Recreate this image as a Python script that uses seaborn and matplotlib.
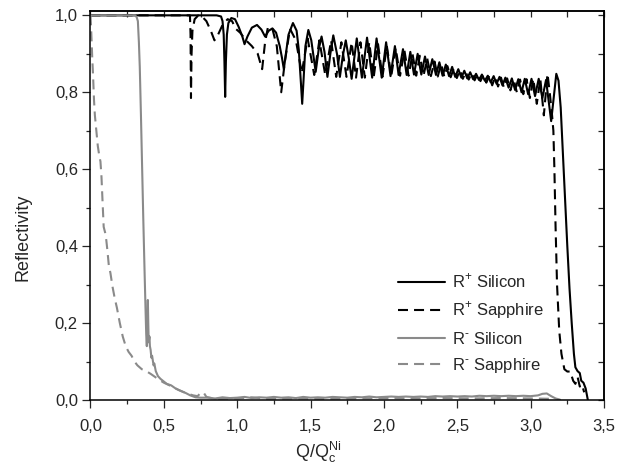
# Reflectivity R+ / R- of Ni multilayer on silicon and sapphire
import pandas as pd
import numpy as np
from matplotlib import pyplot as plt
from matplotlib.ticker import MultipleLocator, FuncFormatter
import seaborn as sns

# R+ Silicon (solid black)
rp_si_q = [0.00, 0.86, 0.89, 0.90, 0.908, 0.913, 0.918, 0.923, 0.93, 0.94, 0.96, 0.985,
           1.01, 1.035, 1.05, 1.07, 1.10, 1.135, 1.165, 1.19, 1.215, 1.24, 1.265, 1.29,
           1.305, 1.318, 1.33, 1.35, 1.38, 1.405, 1.42, 1.435, 1.443, 1.452, 1.465, 1.485,
           1.505, 1.535, 1.555, 1.575, 1.595, 1.615, 1.635, 1.655, 1.68, 1.70, 1.72, 1.74,
           1.76, 1.78, 1.80, 1.815, 1.85, 1.885, 1.92, 1.95, 1.985, 2.015, 2.045, 2.075,
           2.10, 2.13, 2.155, 2.18, 2.205, 2.23, 2.255, 2.28, 2.305, 2.33, 2.355, 2.378,
           2.40, 2.422, 2.444, 2.465, 2.486, 2.507, 2.528, 2.548, 2.568, 2.588, 2.608, 2.628,
           2.648, 2.668, 2.688, 2.708, 2.728, 2.748, 2.768, 2.788, 2.808, 2.828, 2.85, 2.872,
           2.894, 2.916, 2.938, 2.96, 2.983, 3.006, 3.03, 3.055, 3.08, 3.105, 3.14, 3.175,
           3.19, 3.205, 3.22, 3.235, 3.25, 3.265, 3.28, 3.295, 3.305, 3.32, 3.335, 3.345,
           3.36, 3.375, 3.39]
rp_si_r = [1.000, 1.000, 0.997, 0.985, 0.95, 0.88, 0.788, 0.88, 0.95, 0.98, 0.993, 0.99,
           0.97, 0.945, 0.925, 0.945, 0.968, 0.975, 0.963, 0.945, 0.96, 0.966, 0.955, 0.92,
           0.89, 0.86, 0.895, 0.95, 0.98, 0.96, 0.91, 0.82, 0.77, 0.83, 0.92, 0.962,
           0.935, 0.853, 0.91, 0.945, 0.905, 0.84, 0.90, 0.948, 0.90, 0.84, 0.895, 0.935,
           0.89, 0.835, 0.895, 0.94, 0.838, 0.942, 0.838, 0.94, 0.838, 0.93, 0.842, 0.92,
           0.845, 0.912, 0.845, 0.905, 0.846, 0.90, 0.846, 0.893, 0.845, 0.886, 0.845, 0.878,
           0.843, 0.872, 0.842, 0.866, 0.84, 0.86, 0.838, 0.856, 0.836, 0.852, 0.834, 0.848,
           0.832, 0.846, 0.83, 0.843, 0.826, 0.842, 0.822, 0.84, 0.818, 0.838, 0.812, 0.836,
           0.806, 0.834, 0.80, 0.835, 0.795, 0.835, 0.79, 0.835, 0.785, 0.832, 0.725, 0.848,
           0.83, 0.76, 0.64, 0.52, 0.40, 0.29, 0.20, 0.12, 0.085, 0.075, 0.07, 0.05,
           0.045, 0.03, 0.0]

# R+ Sapphire (dashed black)
rp_sa_q = [0.00, 0.678, 0.682, 0.685, 0.689, 0.695, 0.71, 0.735, 0.76, 0.79, 0.82, 0.845,
           0.87, 0.90, 0.935, 0.965, 0.99, 1.02, 1.06, 1.10, 1.14, 1.17, 1.19, 1.21,
           1.24, 1.27, 1.30, 1.325, 1.36, 1.40, 1.44, 1.48, 1.525, 1.56, 1.60, 1.64,
           1.675, 1.71, 1.745, 1.78, 1.81, 1.84, 1.87, 1.90, 1.93, 1.96, 1.99, 2.02,
           2.05, 2.08, 2.11, 2.14, 2.168, 2.195, 2.22, 2.245, 2.27, 2.295, 2.32, 2.345,
           2.367, 2.39, 2.412, 2.433, 2.455, 2.476, 2.497, 2.518, 2.538, 2.558, 2.578, 2.598,
           2.618, 2.638, 2.658, 2.678, 2.698, 2.718, 2.738, 2.758, 2.778, 2.798, 2.818, 2.84,
           2.862, 2.884, 2.906, 2.928, 2.95, 2.972, 2.995, 3.018, 3.042, 3.066, 3.09, 3.115,
           3.13, 3.145, 3.155, 3.162, 3.17, 3.18, 3.195, 3.21, 3.23, 3.25, 3.27, 3.29,
           3.305, 3.32, 3.335, 3.35, 3.365]
rp_sa_r = [1.000, 1.000, 0.95, 0.785, 0.90, 0.96, 0.99, 1.0, 0.997, 0.985, 0.96, 0.935,
           0.95, 0.975, 0.99, 0.985, 0.965, 0.955, 0.935, 0.92, 0.90, 0.86, 0.93, 0.97,
           0.965, 0.92, 0.80, 0.88, 0.965, 0.935, 0.85, 0.94, 0.845, 0.935, 0.845, 0.935,
           0.84, 0.93, 0.84, 0.93, 0.838, 0.93, 0.838, 0.93, 0.838, 0.925, 0.84, 0.92,
           0.842, 0.915, 0.843, 0.908, 0.843, 0.90, 0.843, 0.895, 0.843, 0.888, 0.842, 0.88,
           0.841, 0.874, 0.84, 0.868, 0.839, 0.862, 0.837, 0.858, 0.835, 0.853, 0.833, 0.85,
           0.831, 0.847, 0.829, 0.845, 0.825, 0.843, 0.818, 0.84, 0.815, 0.838, 0.812, 0.836,
           0.805, 0.834, 0.80, 0.833, 0.795, 0.834, 0.785, 0.835, 0.77, 0.835, 0.74, 0.848,
           0.80, 0.745, 0.70, 0.60, 0.45, 0.30, 0.18, 0.12, 0.08, 0.074, 0.074, 0.05,
           0.042, 0.06, 0.035, 0.04, 0.02]

# R- Silicon (solid grey)
rm_si_q = [0.00, 0.305, 0.315, 0.323, 0.33, 0.336, 0.344, 0.352, 0.36, 0.368, 0.375, 0.38,
           0.384, 0.388, 0.391, 0.394, 0.397, 0.402, 0.405, 0.41, 0.415, 0.42, 0.43, 0.435,
           0.445, 0.46, 0.477, 0.50, 0.52, 0.55, 0.58, 0.614, 0.65, 0.68, 0.716, 0.75,
           0.80, 0.85, 0.90, 0.95, 1.00, 1.05, 1.10, 1.15, 1.20, 1.25, 1.30, 1.35,
           1.40, 1.45, 1.50, 1.55, 1.60, 1.65, 1.70, 1.75, 1.80, 1.85, 1.90, 1.95,
           2.00, 2.05, 2.10, 2.15, 2.20, 2.25, 2.30, 2.35, 2.40, 2.45, 2.50, 2.55,
           2.60, 2.65, 2.70, 2.75, 2.80, 2.85, 2.90, 2.95, 3.00, 3.05, 3.08, 3.11,
           3.14, 3.17, 3.20]
rm_si_r = [1.000, 1.000, 0.995, 0.985, 0.93, 0.866, 0.74, 0.605, 0.47, 0.345, 0.24, 0.17,
           0.14, 0.20, 0.26, 0.20, 0.15, 0.165, 0.14, 0.13, 0.11, 0.115, 0.09, 0.095,
           0.075, 0.062, 0.055, 0.048, 0.042, 0.038, 0.03, 0.024, 0.018, 0.012, 0.007, 0.006,
           0.006, 0.004, 0.007, 0.005, 0.006, 0.008, 0.005, 0.007, 0.006, 0.008, 0.006, 0.007,
           0.005, 0.008, 0.006, 0.007, 0.006, 0.008, 0.007, 0.006, 0.008, 0.007, 0.009, 0.007,
           0.008, 0.009, 0.008, 0.009, 0.008, 0.009, 0.008, 0.010, 0.009, 0.010, 0.009, 0.010,
           0.009, 0.011, 0.010, 0.011, 0.010, 0.011, 0.010, 0.011, 0.010, 0.012, 0.016, 0.017,
           0.010, 0.004, 0.001]

# R- Sapphire (dashed grey)
rm_sa_q = [0.00, 0.004, 0.008, 0.012, 0.018, 0.024, 0.03, 0.04, 0.05, 0.06, 0.068, 0.075,
           0.083, 0.09, 0.10, 0.108, 0.115, 0.125, 0.136, 0.15, 0.165, 0.18, 0.20, 0.22,
           0.24, 0.26, 0.28, 0.30, 0.32, 0.35, 0.38, 0.41, 0.44, 0.47, 0.50, 0.55,
           0.60, 0.65, 0.70, 0.73, 0.75, 0.77, 0.79, 0.85, 1.00, 1.10, 1.20, 1.40,
           1.60, 1.80, 2.00, 2.20, 2.40, 2.60, 2.80, 3.00, 3.15]
rm_sa_r = [1.000, 0.97, 0.93, 0.89, 0.84, 0.78, 0.74, 0.70, 0.66, 0.635, 0.62, 0.58,
           0.51, 0.45, 0.435, 0.415, 0.39, 0.35, 0.33, 0.295, 0.265, 0.24, 0.20, 0.165,
           0.14, 0.125, 0.115, 0.10, 0.09, 0.08, 0.075, 0.068, 0.06, 0.052, 0.045, 0.036,
           0.026, 0.018, 0.012, 0.010, 0.018, 0.020, 0.008, 0.003, 0.004, 0.007, 0.003, 0.004,
           0.003, 0.004, 0.005, 0.004, 0.005, 0.004, 0.005, 0.004, 0.003]

labels = [r'R$^\mathregular{+}$ Silicon', r'R$^\mathregular{+}$ Sapphire',
          r'R$^\text{-}$ Silicon', r'R$^\text{-}$ Sapphire']

sns.set_style('ticks')
plt.rcParams['font.family'] = ['Liberation Sans', 'DejaVu Sans']
plt.rcParams['mathtext.fontset'] = 'custom'
plt.rcParams['mathtext.rm'] = 'Liberation Sans'

fig, ax = plt.subplots(figsize=(6.27, 4.65), dpi=100)
fig.subplots_adjust(left=0.1443, right=0.9633, bottom=0.1398, top=0.9753)

grey = '#8a8a8a'
dash = (0, (4.8, 2.9))
curves = [(rp_si_q, rp_si_r, 'black', '-'),
          (rp_sa_q, rp_sa_r, 'black', dash),
          (rm_si_q, rm_si_r, grey, '-'),
          (rm_sa_q, rm_sa_r, grey, dash)]
for (q, r, c, ls), lab in zip(curves, labels):
    df = pd.DataFrame({'Q': q, 'R': r})
    sns.lineplot(data=df, x='Q', y='R', ax=ax, color=c, linestyle=ls,
                 linewidth=1.5, sort=False, estimator=None, label=lab)

ax.set_xlim(0, 3.5)
ax.set_ylim(0, 1.01)
comma = FuncFormatter(lambda v, p: '{:.1f}'.format(v).replace('.', ','))
ax.xaxis.set_major_locator(MultipleLocator(0.5))
ax.xaxis.set_minor_locator(MultipleLocator(0.25))
ax.yaxis.set_major_locator(MultipleLocator(0.2))
ax.yaxis.set_minor_locator(MultipleLocator(0.1))
ax.xaxis.set_major_formatter(comma)
ax.yaxis.set_major_formatter(comma)
ax.tick_params(which='major', direction='out', length=5.5, width=0.9, labelsize=12)
ax.tick_params(which='minor', direction='out', length=3, width=0.9)
ax.tick_params(axis='x', which='major', pad=8)

# mirrored inward ticks on top and right
secx = ax.secondary_xaxis('top')
secx.xaxis.set_major_locator(MultipleLocator(0.5))
secx.xaxis.set_minor_locator(MultipleLocator(0.25))
secx.tick_params(which='both', direction='in', length=4.5, width=0.9, labeltop=False)
secy = ax.secondary_yaxis('right')
secy.yaxis.set_major_locator(MultipleLocator(0.2))
secy.yaxis.set_minor_locator(MultipleLocator(0.1))
secy.tick_params(which='both', direction='in', length=4.5, width=0.9, labelright=False)

for sp in list(ax.spines.values()) + [secx.spines['top'], secy.spines['right']]:
    sp.set_linewidth(1.1)
    sp.set_color('black')

ax.set_xlabel(r'Q/Q$_\mathregular{c}^\mathregular{Ni}$', fontsize=13)
ax.set_ylabel('Reflectivity', fontsize=13)
ax.xaxis.set_label_coords(0.443, -0.102)
ax.yaxis.set_label_coords(-0.115, 0.42)

ax.legend(loc='upper left', bbox_to_anchor=(0.599, 0.33), frameon=False, fontsize=12,
          handlelength=2.8, handletextpad=0.45, labelspacing=0.55,
          borderaxespad=0, borderpad=0)

plt.savefig('out.png', dpi=100)
